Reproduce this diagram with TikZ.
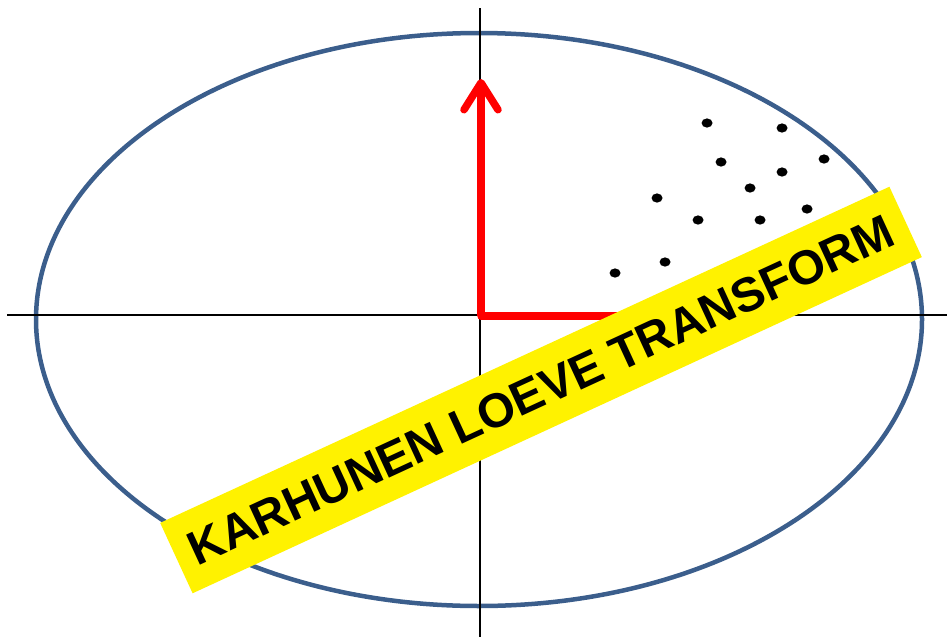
\documentclass[tikz,border=0pt]{standalone}
\usepackage{fontspec}
\newfontfamily\bannerfont{Liberation Sans}
\usetikzlibrary{arrows.meta}
\definecolor{rimblue}{RGB}{59,94,140}
\begin{document}
\begin{tikzpicture}[x=1pt,y=-1pt,
    axis/.style={line width=1.8pt,black},
    basis/.style={line width=7.5pt,red},
    banner/.style={fill=yellow,inner sep=0pt,minimum width=803pt,minimum height=77.5pt,
      font=\bannerfont\bfseries\fontsize{48}{50}\selectfont}]
  \useasboundingbox (0,0) rectangle (947,637);
  \draw[rimblue,line width=4.5pt] (479,319.5) ellipse (443 and 286.5);
  % axes
  \coordinate (xl) at (7,315);
  \coordinate (xr) at (947,315);
  \coordinate (yt) at (480,8);
  \coordinate (yb) at (480,637);
  \draw[axis] (xl) -- (xr);
  \draw[axis] (yt) -- (yb);
  % basis vectors
  \coordinate (O) at (481,316);
  \coordinate (e2) at (481,79);
  \coordinate (e1) at (660,316);
  \draw[basis,line cap=round] (O) -- (e1);
  \draw[basis,-{Straight Barb[length=27pt,width=34pt,round]}] (O) -- (e2);
  % samples
  \foreach \x/\y in {707/123,782/128,721/162,824/159,782/172,750/188,657/198,
                     698/220,760/220,807/209,615/273,665/262}
    \fill (\x,\y) ellipse (5.5 and 4.6);
  \node[banner,rotate=24.75] (klt) at (541,390) {KARHUNEN LOEVE TRANSFORM};
\end{tikzpicture}
\end{document}
